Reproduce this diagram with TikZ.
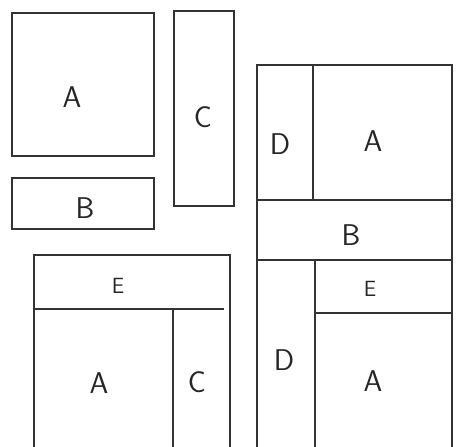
\documentclass[tikz,border=0pt]{standalone}
\usepackage{fontspec}
\setmainfont{DejaVu Sans}
\begin{document}
\begin{tikzpicture}[x=1pt,y=-1pt,
  box/.style={draw=black!80,line width=2.5pt},
  lbl/.style={font=\fontsize{30}{30}\selectfont\sffamily,text=black!85,inner sep=0pt},
  slbl/.style={font=\fontsize{22}{22}\selectfont\sffamily,text=black!85,inner sep=0pt}]
\useasboundingbox (0,0) rectangle (456,447);
% top-left
\draw[box] (12,13) rectangle (154,156);
\draw[box] (12,178) rectangle (154,229);
\draw[box] (174,11) rectangle (234,206);
\node[lbl] (a1) at (72,97) {A};
\node[lbl] (b1) at (85,208) {B};
\node[lbl] (c1) at (203,117) {C};
% right
\draw[box] (257,449) -- (257,65) -- (452,65) -- (452,449);
\draw[box] (313,65) -- (313,200);
\draw[box] (257,200) -- (452,200);
\draw[box] (257,260) -- (452,260);
\draw[box] (315,260) -- (315,449);
\draw[box] (315,313) -- (452,313);
\node[lbl] (d2) at (280,144) {D};
\node[lbl] (a2) at (373,141) {A};
\node[lbl] (b2) at (351,235) {B};
\node[slbl] (e2) at (370,289) {E};
\node[lbl] (d3) at (284,360) {D};
\node[lbl] (a3) at (373,381) {A};
% bottom-left
\draw[box] (34,449) -- (34,255) -- (230,255) -- (230,449);
\draw[box] (34,309) -- (224,309);
\draw[box] (173,309) -- (173,449);
\node[slbl] (e1) at (118,286) {E};
\node[lbl] (a4) at (99,383) {A};
\node[lbl] (c4) at (197,382) {C};
\end{tikzpicture}
\end{document}
